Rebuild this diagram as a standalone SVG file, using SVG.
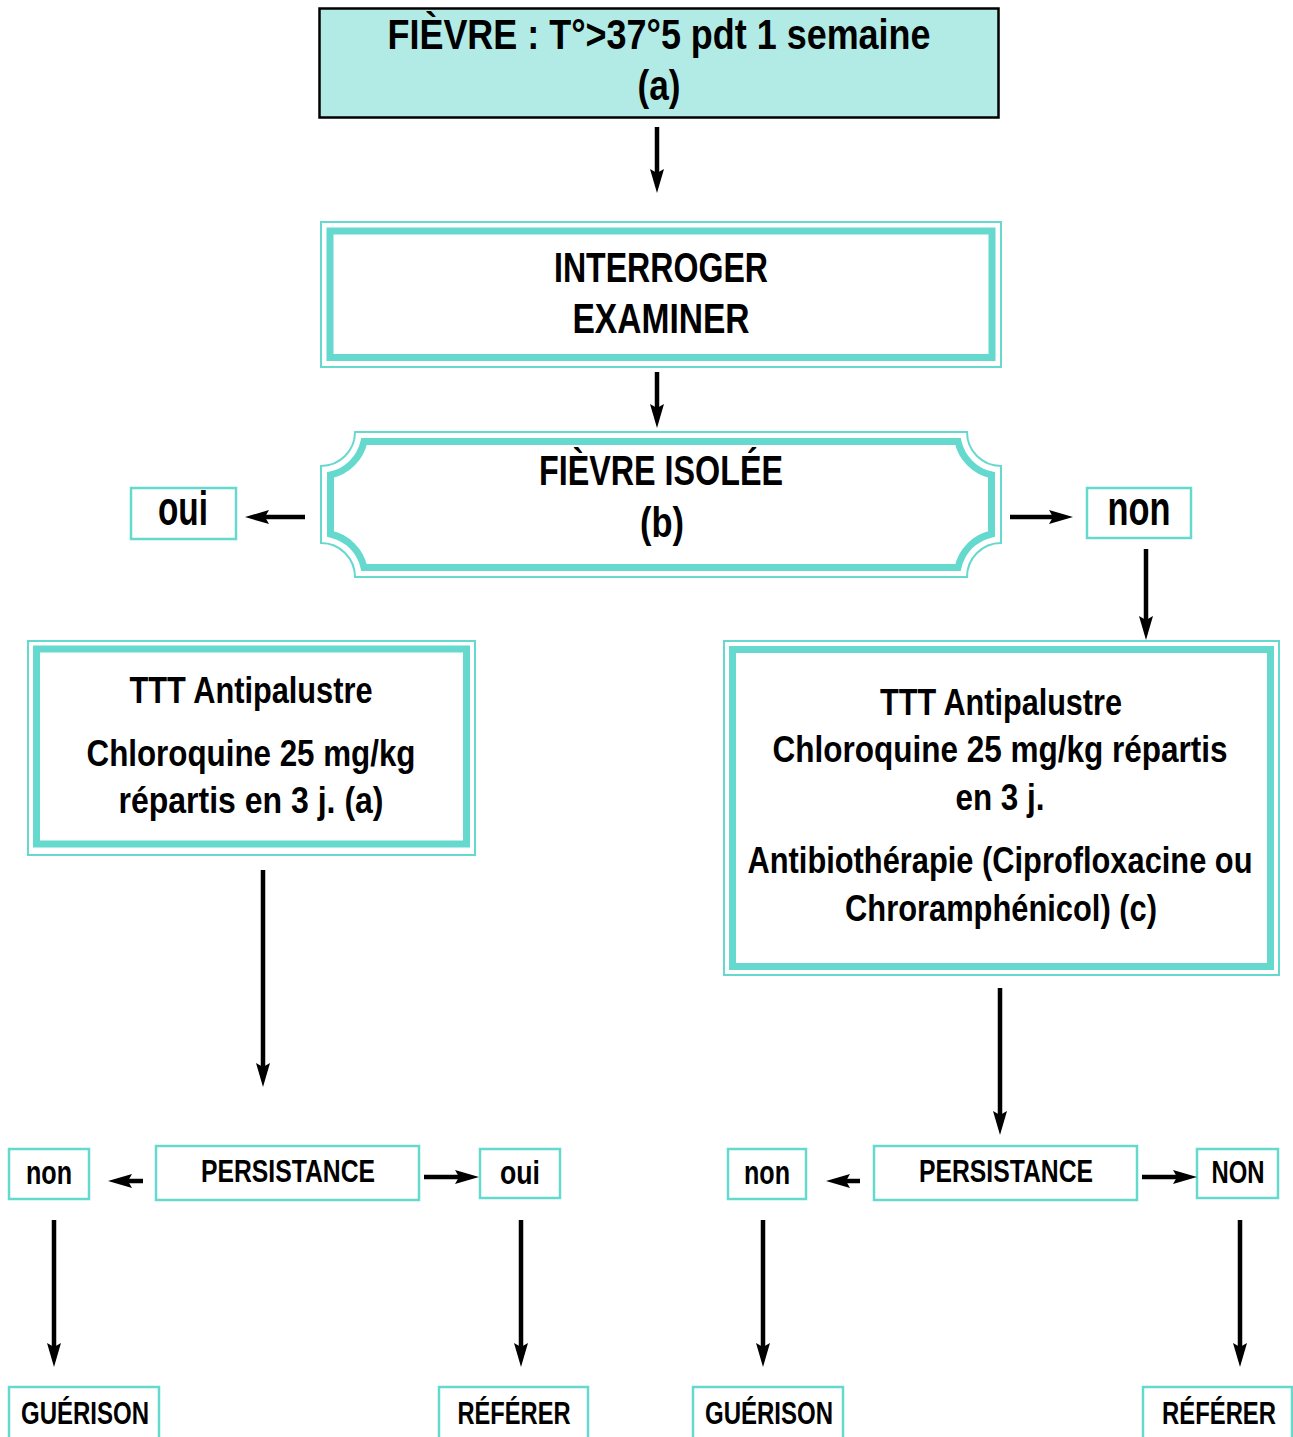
<svg xmlns="http://www.w3.org/2000/svg" width="1293" height="1437" viewBox="0 0 1293 1437">
<defs>
<marker id="ah" viewBox="0 0 24 14" refX="12" refY="7" markerWidth="24" markerHeight="14" markerUnits="userSpaceOnUse" orient="auto">
<path d="M0,0 L24,7 L0,14 L4,7 Z" fill="#000"/>
</marker>
<style>
text{font-family:"Liberation Sans",Arial,sans-serif;font-weight:bold;fill:#000;text-anchor:middle}
.thin{fill:none;stroke:#66d9cf;stroke-width:2}
.thick{fill:none;stroke:#66d9cf;stroke-width:7}
.sbox{fill:#fff;stroke:#66d9cf;stroke-width:2.5}
.cn line{stroke:#000;stroke-width:4.5;marker-end:url(#ah)}
.t43{font-size:43px}
.t48{font-size:48px}
.t36{font-size:36px}
.t34{font-size:34px}
.t32{font-size:32px}
</style>
</defs>
<rect width="1293" height="1437" fill="#fff"/>

<g id="n-fievre">
<rect x="319.5" y="8.5" width="679" height="109" fill="#b2ebe5" stroke="#000" stroke-width="2.5"/>
<text class="t43" x="659" y="49" textLength="543" lengthAdjust="spacingAndGlyphs">FIÈVRE : T°&gt;37°5 pdt 1 semaine</text>
<text class="t43" x="659" y="100" textLength="43" lengthAdjust="spacingAndGlyphs">(a)</text>
</g>

<g id="n-interroger">
<rect class="thin" x="321" y="222" width="680" height="145"/>
<rect class="thick" x="330" y="231" width="662" height="126.5"/>
<text class="t43" x="661" y="282" textLength="214" lengthAdjust="spacingAndGlyphs">INTERROGER</text>
<text class="t43" x="661" y="333" textLength="177" lengthAdjust="spacingAndGlyphs">EXAMINER</text>
</g>

<g id="n-isolee">
<path class="thin" d="M355,432 H967 A34,34 0 0 0 1001,466 V543 A34,34 0 0 0 967,577 H355 A34,34 0 0 0 321,543 V466 A34,34 0 0 0 355,432 Z"/>
<path class="thick" d="M364,441.5 H958 A44,44 0 0 0 991.5,475 V534 A44,44 0 0 0 958,567.5 H364 A44,44 0 0 0 330.5,534 V475 A44,44 0 0 0 364,441.5 Z"/>
<text class="t43" x="661" y="485" textLength="244" lengthAdjust="spacingAndGlyphs">FIÈVRE ISOLÉE</text>
<text class="t43" x="662" y="537" textLength="44" lengthAdjust="spacingAndGlyphs">(b)</text>
</g>

<g id="n-oui1">
<rect class="sbox" x="131" y="488" width="105" height="51"/>
<text class="t48" x="183" y="525" textLength="50" lengthAdjust="spacingAndGlyphs">oui</text>
</g>

<g id="n-non1">
<rect class="sbox" x="1087" y="488" width="104" height="50"/>
<text class="t48" x="1139" y="525" textLength="63" lengthAdjust="spacingAndGlyphs">non</text>
</g>

<g id="n-ttt-left">
<rect class="thin" x="28" y="641" width="447" height="214"/>
<rect class="thick" x="36.5" y="649" width="430" height="195"/>
<text class="t36" x="251" y="703" textLength="243" lengthAdjust="spacingAndGlyphs">TTT Antipalustre</text>
<text class="t36" x="251" y="766" textLength="329" lengthAdjust="spacingAndGlyphs">Chloroquine 25 mg/kg</text>
<text class="t36" x="251" y="813" textLength="265" lengthAdjust="spacingAndGlyphs">répartis en 3 j. (a)</text>
</g>

<g id="n-ttt-right">
<rect class="thin" x="724" y="641" width="555" height="334"/>
<rect class="thick" x="732.5" y="649.5" width="538" height="317"/>
<text class="t36" x="1001" y="715" textLength="242" lengthAdjust="spacingAndGlyphs">TTT Antipalustre</text>
<text class="t36" x="1000" y="762" textLength="455" lengthAdjust="spacingAndGlyphs">Chloroquine 25 mg/kg répartis</text>
<text class="t36" x="1000" y="810" textLength="89" lengthAdjust="spacingAndGlyphs">en 3 j.</text>
<text class="t36" x="1000" y="873" textLength="505" lengthAdjust="spacingAndGlyphs">Antibiothérapie (Ciprofloxacine ou</text>
<text class="t36" x="1001" y="921" textLength="312" lengthAdjust="spacingAndGlyphs">Chroramphénicol) (c)</text>
</g>

<g id="n-pers-left">
<rect class="sbox" x="156" y="1146" width="263" height="54"/>
<text class="t32" x="288" y="1182" textLength="174" lengthAdjust="spacingAndGlyphs">PERSISTANCE</text>
</g>
<g id="n-non-l">
<rect class="sbox" x="9" y="1149" width="80" height="50"/>
<text class="t34" x="49" y="1184" textLength="46" lengthAdjust="spacingAndGlyphs">non</text>
</g>
<g id="n-oui-l">
<rect class="sbox" x="480" y="1149" width="80" height="49"/>
<text class="t34" x="520" y="1184" textLength="40" lengthAdjust="spacingAndGlyphs">oui</text>
</g>

<g id="n-pers-right">
<rect class="sbox" x="874" y="1146" width="263" height="54"/>
<text class="t32" x="1006" y="1182" textLength="174" lengthAdjust="spacingAndGlyphs">PERSISTANCE</text>
</g>
<g id="n-non-r">
<rect class="sbox" x="728" y="1149" width="78" height="50"/>
<text class="t34" x="767" y="1184" textLength="46" lengthAdjust="spacingAndGlyphs">non</text>
</g>
<g id="n-NON-r">
<rect class="sbox" x="1197" y="1149" width="81" height="49"/>
<text class="t32" x="1238" y="1183" textLength="53" lengthAdjust="spacingAndGlyphs">NON</text>
</g>

<g id="n-guer1">
<rect class="sbox" x="9" y="1387" width="150" height="60"/>
<text class="t32" x="85" y="1424" textLength="128" lengthAdjust="spacingAndGlyphs">GUÉRISON</text>
</g>
<g id="n-ref1">
<rect class="sbox" x="439" y="1387" width="149" height="60"/>
<text class="t32" x="514" y="1424" textLength="113" lengthAdjust="spacingAndGlyphs">RÉFÉRER</text>
</g>
<g id="n-guer2">
<rect class="sbox" x="693" y="1387" width="150" height="60"/>
<text class="t32" x="769" y="1424" textLength="128" lengthAdjust="spacingAndGlyphs">GUÉRISON</text>
</g>
<g id="n-ref2">
<rect class="sbox" x="1143" y="1387" width="149" height="60"/>
<text class="t32" x="1219" y="1424" textLength="114" lengthAdjust="spacingAndGlyphs">RÉFÉRER</text>
</g>

<g id="connectors" class="cn">
<line x1="657" y1="127" x2="657" y2="181"/>
<line x1="657" y1="372" x2="657" y2="416"/>
<line x1="305" y1="517" x2="257" y2="517"/>
<line x1="1010" y1="517" x2="1061" y2="517"/>
<line x1="1146" y1="549" x2="1146" y2="628"/>
<line x1="263" y1="870" x2="263" y2="1075"/>
<line x1="1000" y1="988" x2="1000" y2="1123"/>
<line x1="143" y1="1181" x2="120" y2="1181"/>
<line x1="424" y1="1177" x2="467" y2="1177"/>
<line x1="860" y1="1181" x2="838" y2="1181"/>
<line x1="1142" y1="1177" x2="1185" y2="1177"/>
<line x1="54" y1="1220" x2="54" y2="1355"/>
<line x1="521" y1="1220" x2="521" y2="1355"/>
<line x1="763" y1="1220" x2="763" y2="1355"/>
<line x1="1240" y1="1220" x2="1240" y2="1355"/>
</g>
</svg>
